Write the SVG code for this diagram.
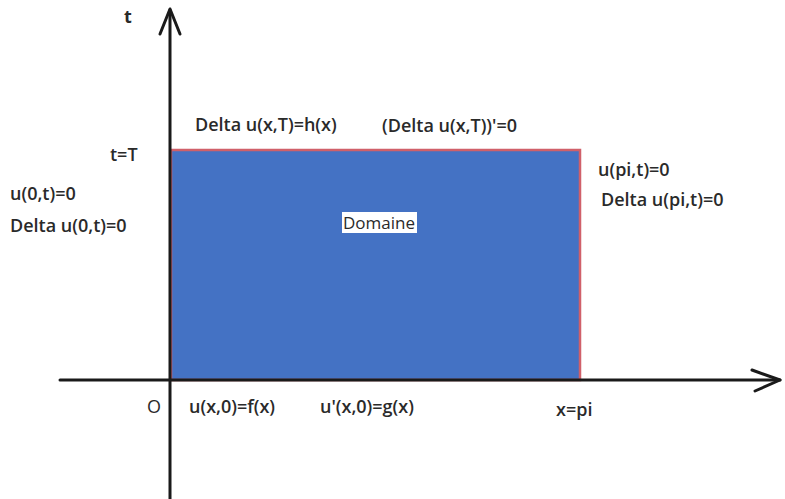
<svg xmlns="http://www.w3.org/2000/svg" width="785" height="499" viewBox="0 0 785 499">
<style>
text{font-family:"Open Sans","Liberation Sans",sans-serif;font-weight:600;font-size:18px;fill:#2a2a2a}
.ax{stroke:#1a1a1a;stroke-width:3;fill:none;stroke-linecap:round;stroke-linejoin:round}
</style>
<rect width="785" height="499" fill="#fff"/>
<g id="domain">
<rect x="171" y="150" width="409" height="230" fill="#4472c4" stroke="#d0606a" stroke-width="2.5"/>
<rect x="342" y="212" width="75" height="21" fill="#fff"/>
<text x="343" y="229" style="font-weight:400;font-size:17px">Domaine</text>
</g>
<g id="axes">
<path class="ax" d="M170 499 V10"/>
<path class="ax" d="M160 34 L170 9 L180 34"/>
<path class="ax" d="M60 380 H780"/>
<path class="ax" d="M752 370 L780 380 L755 391"/>
</g>
<g id="labels">
<text x="124" y="23" style="font-weight:700">t</text>
<text x="110" y="161">t=T</text>
<text x="10" y="200">u(0,t)=0</text>
<text x="10" y="232">Delta u(0,t)=0</text>
<text x="195" y="131">Delta u(x,T)=h(x)</text>
<text x="382" y="132">(Delta u(x,T))'=0</text>
<text x="598" y="176">u(pi,t)=0</text>
<text x="601" y="206">Delta u(pi,t)=0</text>
<text x="147" y="413" style="font-weight:400">O</text>
<text x="189" y="413">u(x,0)=f(x)</text>
<text x="320" y="413">u'(x,0)=g(x)</text>
<text x="556" y="416">x=pi</text>
</g>
</svg>
